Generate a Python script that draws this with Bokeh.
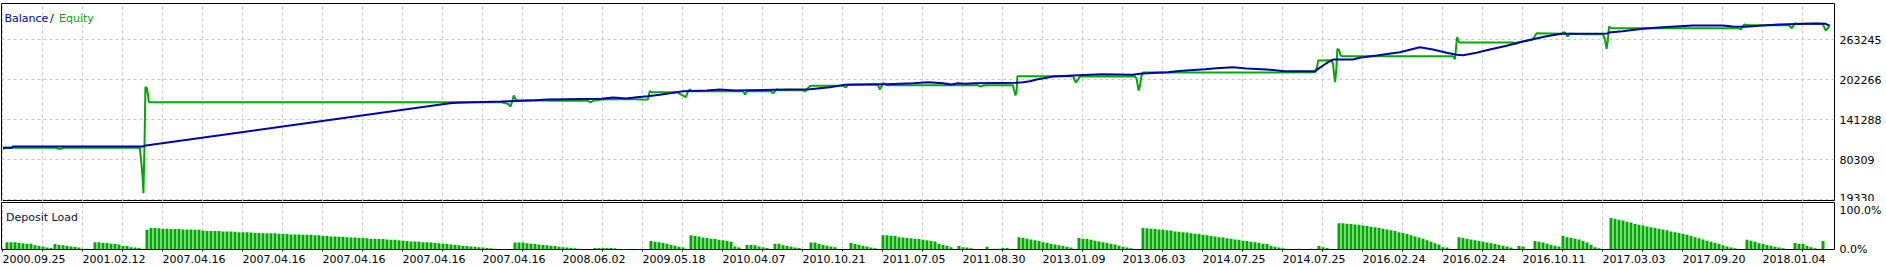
from bokeh.plotting import figure
from bokeh.models import Range1d, FixedTicker, Label
from bokeh.layouts import column
from bokeh.embed import file_html
from bokeh.resources import INLINE

FONT = "DejaVu Sans"

# ---------------- data (x = trade number) ----------------
balance_t = [0, 2.2, 2.5, 35, 35.3, 111.7, 113.4, 117.5, 124.6, 133.0, 136.2, 149.6, 152.5, 155.9,
             158.4, 161.2, 164.2, 166.7, 170.0, 175.9, 179.2, 183.0, 195.9, 201.7, 204.2, 206.7,
             210.5, 217.5, 220.9, 227.5, 231.3, 235.0, 237.1, 238.8, 240.5, 243.0, 253.4, 255.0,
             256.7, 258.4, 260.9, 262.5, 267.5, 274.6, 282.5, 284.2, 288.4, 291.3, 293.4, 296.7,
             300.5, 303.4, 307.5, 310.9, 316.0, 320.5, 328.0, 328.8, 330.0, 331.3, 332.5, 337.5,
             339.2, 343.4, 349.2, 354.2, 357.5, 360.9, 363.4, 365.0, 368.4, 371.7, 375.9, 379.2,
             382.5, 385.9, 389.6, 401.1, 401.5, 404.9, 407.8, 410.7, 414.9, 422.4, 429.9, 432.4,
             435.7, 439.9, 444.0, 453.2, 455.7, 456.5]
balance_v = [98600, 98600, 100600, 100600, 101600, 166600, 167200, 168100, 169200, 171200, 172200,
             173300, 175300, 173800, 175700, 177300, 179400, 181800, 184900, 186000, 187500, 186000,
             187500, 187900, 189500, 191000, 194600, 195600, 195600, 197100, 198600, 197100, 195100,
             197100, 196200, 197100, 197700, 198600, 200100, 202700, 205300, 207300, 208800, 210800,
             209900, 211400, 212900, 213900, 215400, 216900, 218400, 219900, 221300, 219500, 218000,
             215400, 215400, 219000, 224100, 229100, 233200, 233200, 235800, 239300, 244300, 252000,
             248500, 243400, 240400, 239800, 243400, 248500, 254100, 259600, 264200, 268700, 272600,
             272800, 274400, 276400, 278500, 280500, 282500, 285000, 285000, 283500, 283100, 285000,
             286600, 288100, 287600, 285000]

equity_t = [0, 0.5, 13.5, 13.6, 14.7, 14.8, 34.2, 34.6, 34.9, 35.1, 35.4, 35.6, 35.95, 36.2, 36.45,
            124.6, 126.2, 126.9, 127.4, 127.7, 128.2, 128.7, 136.2, 136.5, 146.2, 146.9, 147.5,
            149.6, 152.5, 158.4, 160.7, 161.2, 161.7, 162.2, 168.4, 170.7, 171.2, 171.7, 172.2,
            185.0, 185.5, 186.0, 192.0, 192.5, 193.5, 194.0, 200.0, 200.5, 201.7, 202.2, 210.0,
            210.7, 211.2, 218.7, 219.2, 220.0, 220.9, 243.7, 244.2, 245.5, 252.5, 252.7, 253.1,
            253.4, 253.6, 267.5, 268.2, 268.8, 269.2, 283.0, 283.4, 283.9, 284.2, 284.6, 285.0,
            328.0, 328.5, 328.8, 332.1, 332.5, 333.0, 333.3, 333.6, 334.0, 334.4, 334.8, 362.5,
            363.0, 363.5, 364.0, 364.4, 377.5, 378.2, 378.7, 379.2, 382.5, 383.4, 389.6, 390.45,
            391.1, 391.7, 395.7, 400.0, 400.45, 400.9, 401.2, 401.5, 401.95, 402.2, 434.0, 434.45,
            435.3, 436.5, 446.5, 447.2, 448.0, 448.45, 454.9, 455.7, 456.4, 456.7]
equity_v = [96500, 98600, 98600, 97100, 97100, 98600, 98600, 74700, 53300, 29400, 109700, 191000,
            189800, 180900, 168100, 168100, 165700, 161600, 171800, 178300, 171800, 170700, 170700,
            170300, 170300, 167700, 170300, 172200, 172700, 172700, 171800, 172700, 184900, 183400,
            183400, 175700, 183400, 187900, 184900, 184900, 179900, 184900, 184900, 181800, 187900,
            186400, 186400, 184400, 192500, 193100, 193100, 190500, 194600, 194600, 187500, 197100,
            194000, 194000, 192000, 194000, 194000, 188500, 178300, 185000, 207800, 207800, 198100,
            203000, 207300, 207300, 203800, 186000, 192000, 208000, 213400, 213600, 221500, 231700,
            232100, 226700, 198600, 215000, 249500, 248000, 239300, 238200, 238200, 233700, 267200,
            259600, 259100, 259100, 257100, 259100, 259600, 264200, 273300, 272400, 274800, 268300,
            272400, 271800, 271800, 264800, 249500, 262000, 283500, 281500, 280900, 280900, 278900,
            286600, 285500, 285500, 280900, 288600, 287600, 287600, 277400, 282500, 286600]

deposit_load = [
    0, 19, 19, 19, 17, 16, 15, 15, 11, 9, 8, 5, 4, 14, 12, 11, 10, 8, 7, 5, 2, 2, 0,
    19, 19, 17, 17, 15, 14, 13, 9, 9, 6, 5, 4, 0,
    51, 56, 56, 55, 54, 54, 53, 53, 53, 52, 52, 52, 51, 51,
    49, 48, 48, 48, 48, 47, 47, 47, 46, 45, 45, 45,
    44, 43, 43, 42, 42, 42, 42, 41, 41, 40, 39, 39, 39, 38, 38, 38, 37, 37,
    35, 35, 34, 34, 33, 33, 32, 31, 31, 30, 30, 29, 28, 28, 27, 27, 26, 25, 25, 24,
    23, 22, 21, 21, 20, 19, 19, 18, 17, 16, 15, 14, 13, 12, 11, 10, 9, 8, 7,
    6, 5, 4, 3, 2, 0, 1, 0, 0,
    18, 18, 18, 16, 15, 14, 13, 12, 11, 10, 9, 7, 6, 5, 4, 3, 2, 0, 0, 0,
    4, 4, 4, 4, 4, 3, 0, 1, 1, 0, 0, 1, 0, 0,
    22, 20, 19, 17, 15, 12, 10, 7, 5, 0,
    37, 36, 34, 31, 30, 28, 27, 25, 24, 22, 20, 8, 5, 0,
    12, 12, 11, 8, 6, 4, 0, 15, 15, 11, 9, 7, 5, 4, 0, 0,
    18, 18, 14, 12, 10, 8, 6, 0, 0, 0, 17, 14, 12, 10, 8, 5, 3, 0,
    37, 37, 36, 35, 32, 31, 30, 29, 28, 27, 25, 24, 22, 21, 15, 12, 9, 6,
    0, 9, 6, 5, 3, 0, 0, 0, 7, 0, 2, 2, 4, 4, 0, 0,
    32, 30, 28, 26, 24, 22, 19, 17, 15, 13, 11, 9, 7, 5, 0,
    30, 28, 27, 25, 23, 21, 19, 17, 15, 13, 10, 7, 5, 3, 0, 0,
    56, 55, 54, 53, 52, 51, 50, 49, 47, 46, 45, 44, 42, 41, 40,
    38, 37, 35, 34, 32, 31, 29, 28, 26, 25, 23, 22, 20, 19, 17, 15, 14,
    9, 7, 5, 3, 2, 0, 0, 2, 0, 0, 2, 0, 9, 6, 4, 0, 0,
    68, 68, 67, 66, 65, 64, 62, 61, 59, 58, 56, 54, 52, 50, 48, 45, 43, 40, 37, 34, 31, 28, 24,
    20, 16, 13, 6, 5, 0, 0,
    32, 30, 28, 26, 24, 22, 20, 18, 16, 14, 12, 10, 8, 5, 0, 9, 8, 0, 0,
    22, 20, 18, 15, 12, 10, 8, 35, 32, 30, 28, 26, 22, 18, 12, 6, 3, 0, 0,
    82, 80, 77, 75, 72, 70, 66, 64, 62, 60, 58, 56, 54, 52, 50, 47, 45, 43, 40,
    38, 35, 32, 29, 26, 23, 20, 17, 14, 11, 8, 5, 3, 0, 0,
    25, 23, 20, 16, 14, 12, 10, 7, 5, 3, 0, 0, 17, 15, 14, 9, 6, 3, 0, 22, 0, 0,
]

date_labels = ["2000.09.25", "2001.02.12", "2007.04.16", "2007.04.16", "2007.04.16", "2007.04.16",
               "2007.04.16", "2008.06.02", "2009.05.18", "2010.04.07", "2010.10.21", "2011.07.05",
               "2011.08.30", "2013.01.09", "2013.06.03", "2014.07.25", "2014.07.25", "2016.02.24",
               "2016.02.24", "2016.10.11", "2017.03.03", "2017.09.20", "2018.01.04"]
y_ticks = [19330, 80309, 141288, 202266, 263245]
load_ticks = [0, 100]
load_tick_labels = ["0.0%", "100.0%"]

# ---------------- styling ----------------
BLUE = "#0000AA"
GREEN = "#00AA00"
GRID = "#C8C8C8"
W = 1886

grid_pos = [10 * k - 0.2 for k in range(46)]
label_pos = [20 * k + 7.75 for k in range(len(date_labels))]

xr = Range1d(-0.375, -0.375 + 1833 / 4)

main = figure(width=W, height=201, x_range=xr, y_range=Range1d(16740, 318580),
              x_axis_location=None, y_axis_location="right",
              output_backend="svg", toolbar_location=None,
              min_border_left=1, min_border_right=52, min_border_top=3, min_border_bottom=0,
              background_fill_color="white", border_fill_color="white",
              outline_line_color="black", outline_line_width=1)
main.xgrid.ticker = FixedTicker(ticks=grid_pos)
for g in (main.xgrid, main.ygrid):
    g.grid_line_color = GRID
    g.grid_line_dash = "3 3"
    g.grid_line_width = 1
ax = main.yaxis[0]
ax.ticker = FixedTicker(ticks=y_ticks)
ax.major_label_overrides = {v: str(v) for v in y_ticks}
ax.axis_line_color = None
ax.major_tick_out = 0
ax.major_tick_in = 0
ax.minor_tick_out = 0
ax.minor_tick_in = 0
ax.major_label_standoff = 5
ax.major_label_text_font = FONT
ax.major_label_text_font_size = "11px"
ax.major_label_text_color = "black"

main.line(equity_t, equity_v, line_color=GREEN, line_width=2)
main.line(balance_t, balance_v, line_color=BLUE, line_width=2)

main.add_layout(Label(x=3, y=183.5, x_units="screen", y_units="screen", text="Balance",
                      text_font=FONT, text_font_size="11px", text_color=BLUE,
                      text_baseline="alphabetic"))
main.add_layout(Label(x=48.5, y=183.5, x_units="screen", y_units="screen", text="/",
                      text_font=FONT, text_font_size="11px", text_color="black",
                      text_baseline="alphabetic"))
main.add_layout(Label(x=57.5, y=183.5, x_units="screen", y_units="screen", text="Equity",
                      text_font=FONT, text_font_size="11px", text_color=GREEN,
                      text_baseline="alphabetic"))

low = figure(width=W, height=66, x_range=xr, y_range=Range1d(0, 122),
             x_axis_location="below", y_axis_location="right",
             output_backend="svg", toolbar_location=None,
             min_border_left=1, min_border_right=52, min_border_top=1, min_border_bottom=18,
             background_fill_color="white", border_fill_color="white",
             outline_line_color="black", outline_line_width=1)
low.ygrid.visible = False
low.xgrid.ticker = FixedTicker(ticks=grid_pos)
low.xgrid.grid_line_color = GRID
low.xgrid.grid_line_dash = "3 3"

xa = low.xaxis[0]
xa.ticker = FixedTicker(ticks=label_pos, minor_ticks=grid_pos)
xa.major_label_overrides = {p: d for p, d in zip(label_pos, date_labels)}
xa.axis_line_color = None
xa.major_tick_out = 0
xa.major_tick_in = 0
xa.minor_tick_out = 2
xa.minor_tick_in = 0
xa.minor_tick_line_color = "black"
xa.major_label_standoff = 3
xa.major_label_text_font = FONT
xa.major_label_text_font_size = "11px"
xa.major_label_text_color = "black"

ya = low.yaxis[0]
ya.ticker = FixedTicker(ticks=load_ticks)
ya.major_label_overrides = {v: s for v, s in zip(load_ticks, load_tick_labels)}
ya.axis_line_color = None
ya.major_tick_out = 0
ya.major_tick_in = 0
ya.minor_tick_out = 0
ya.minor_tick_in = 0
ya.major_label_standoff = 5
ya.major_label_text_font = FONT
ya.major_label_text_font_size = "11px"
ya.major_label_text_color = "black"

low.vbar(x=list(range(len(deposit_load))), top=deposit_load, bottom=0, width=0.75,
         fill_color=GREEN, line_color=None)
low.add_layout(Label(x=4.5, y=32.5, x_units="screen", y_units="screen", text="Deposit Load",
                     text_font=FONT, text_font_size="11px", text_color="#101040",
                     text_baseline="alphabetic"))

layout = column(main, low, spacing=0)
open("out.html", "w").write(file_html(layout, INLINE))
